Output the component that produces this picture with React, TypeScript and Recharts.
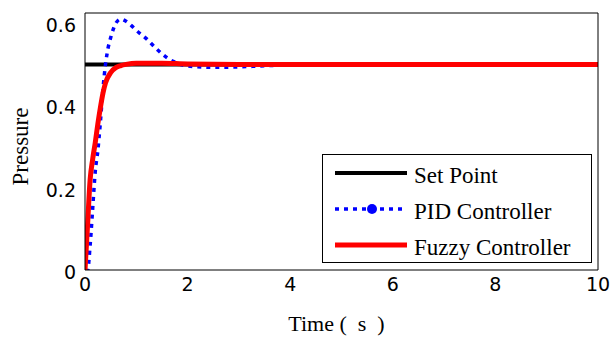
import React from 'react';
import { LineChart, Line, XAxis, YAxis, Legend } from 'recharts';

// ---- data ----
const timeTicks = [0, 2, 4, 6, 8, 10];
const pressureTicks = [0, 0.2, 0.4, 0.6];

const setPointT = [0, 10];
const setPointV = [0.5, 0.5];

const pidT = [0, 0.05, 0.1, 0.15, 0.2, 0.25, 0.3, 0.35, 0.4, 0.45, 0.5, 0.55, 0.6, 0.7, 0.8, 0.9, 1.0, 1.2, 1.4, 1.6, 1.8, 2.0, 2.5, 3.0, 3.4, 4.0, 5.0, 10];
const pidV = [0, 0, 0.06, 0.15, 0.24, 0.29, 0.36, 0.44, 0.5, 0.54, 0.565, 0.585, 0.6, 0.61, 0.605, 0.595, 0.583, 0.562, 0.537, 0.516, 0.503, 0.496, 0.493, 0.494, 0.496, 0.499, 0.5, 0.5];

const fuzzyT = [0, 0.05, 0.1, 0.15, 0.2, 0.25, 0.3, 0.35, 0.4, 0.5, 0.6, 0.7, 0.8, 1.0, 1.5, 2.0, 3.0, 10];
const fuzzyV = [0, 0.11, 0.22, 0.27, 0.31, 0.355, 0.395, 0.43, 0.455, 0.48, 0.492, 0.497, 0.5, 0.503, 0.503, 0.501, 0.5, 0.5];

const seriesNames = ['Set Point', 'PID Controller', 'Fuzzy Controller'];

const toRows = (ts: number[], vs: number[]) => ts.map((t, i) => ({ t, v: vs[i] }));
const setPointData = toRows(setPointT, setPointV);
const pidData = toRows(pidT, pidV);
const fuzzyData = toRows(fuzzyT, fuzzyV);

// ---- styles ----
const SERIF = "'Liberation Serif', 'Times New Roman', Times, serif";
const SANS = "'DejaVu Sans', Verdana, sans-serif";
const styleByName: Record<string, { stroke: string; width: number; dash?: string; dot?: boolean }> = {
  'Set Point': { stroke: '#000000', width: 4 },
  'PID Controller': { stroke: '#0000ff', width: 3.5, dash: '4 5', dot: true },
  'Fuzzy Controller': { stroke: '#ff0000', width: 5 },
};

const renderLegend = (props: any) => {
  const payload: any[] = [...(props.payload || [])].sort(
    (a: any, b: any) => seriesNames.indexOf(String(a.value)) - seriesNames.indexOf(String(b.value))
  );
  return (
    <svg width={271} height={110} style={{ display: 'block' }}>
      <rect x={0.5} y={0.5} width={269} height={108} fill="#fff" stroke="#000" strokeWidth={1} />
      {payload.map((p: any, i: number) => {
        const name = String(p.value);
        const st = styleByName[name] || { stroke: p.color, width: 3 };
        const cy = 19 + i * 36;
        return (
          <g key={name}>
            <line x1={13} x2={85} y1={cy} y2={cy} stroke={st.stroke} strokeWidth={st.width} strokeDasharray={st.dash} />
            {st.dot ? <circle cx={50} cy={cy} r={5} fill={st.stroke} /> : null}
            <text x={92} y={cy + 10} style={{ fontFamily: SERIF, fontSize: 23, fill: '#000' }}>{name}</text>
          </g>
        );
      })}
    </svg>
  );
};

export default function App() {
  return (
    <div style={{ position: 'absolute', left: 0, top: 0, width: 610, height: 338, background: '#fff' }}>
      <LineChart width={610} height={338} margin={{ top: 13, right: 12, bottom: 7, left: 0 }}>
        <XAxis
          xAxisId="b"
          type="number"
          dataKey="t"
          domain={[0, 10]}
          ticks={timeTicks}
          interval={0}
          allowDataOverflow
          height={61}
          tickLine={false}
          tickSize={0}
          tickMargin={8}
          axisLine={{ stroke: '#000', strokeWidth: 1 }}
          tick={{ fill: '#000', fontSize: 19, fontFamily: SANS }}
          label={{ value: 'Time (\u00a0 s\u00a0 )', position: 'insideBottom', offset: 0, dx: -5, fill: '#000', style: { fill: '#000', fontSize: 22, fontFamily: SERIF } }}
        />
        <XAxis xAxisId="bt" type="number" dataKey="t" domain={[0, 10]} ticks={timeTicks} interval={0} allowDataOverflow orientation="bottom" mirror height={4} tick={false} tickSize={4} tickLine={{ stroke: '#000' }} axisLine={false} />
        <XAxis xAxisId="top" type="number" dataKey="t" domain={[0, 10]} ticks={timeTicks} interval={0} allowDataOverflow orientation="top" mirror height={4} tick={false} tickSize={4} tickLine={{ stroke: '#000' }} axisLine={{ stroke: '#000', strokeWidth: 1 }} />
        <YAxis
          yAxisId="l"
          type="number"
          domain={[0, 0.625]}
          ticks={pressureTicks}
          interval={0}
          allowDataOverflow
          width={85}
          tickLine={false}
          tickSize={0}
          tickMargin={9}
          axisLine={{ stroke: '#000', strokeWidth: 1 }}
          tick={{ fill: '#000', fontSize: 19, fontFamily: SANS, dy: 2 }}
          tickFormatter={(v: number) => String(v)}
          label={{ value: 'Pressure', angle: -90, position: 'center', dx: -23, dy: 5, fill: '#000', style: { fill: '#000', fontSize: 23, fontFamily: SERIF } }}
        />
        <YAxis yAxisId="li" type="number" domain={[0, 0.625]} ticks={pressureTicks} interval={0} allowDataOverflow orientation="left" mirror width={4} tick={false} tickSize={4} tickLine={{ stroke: '#000' }} axisLine={false} />
        <YAxis yAxisId="r" type="number" domain={[0, 0.625]} ticks={pressureTicks} interval={0} allowDataOverflow orientation="right" mirror width={4} tick={false} tickSize={4} tickLine={{ stroke: '#000' }} axisLine={{ stroke: '#000', strokeWidth: 1 }} />
        <Line xAxisId="b" yAxisId="l" data={setPointData} dataKey="v" name={seriesNames[0]} type="linear" stroke="#000000" strokeWidth={4} dot={false} activeDot={false} isAnimationActive={false} />
        <Line xAxisId="b" yAxisId="l" data={pidData} dataKey="v" name={seriesNames[1]} type="monotone" stroke="#0000ff" strokeWidth={3.5} strokeDasharray="4 5" dot={false} activeDot={false} isAnimationActive={false} />
        <Line xAxisId="b" yAxisId="l" data={fuzzyData} dataKey="v" name={seriesNames[2]} type="monotone" stroke="#ff0000" strokeWidth={5} dot={false} activeDot={false} isAnimationActive={false} />
        <Legend
          layout="horizontal"
          verticalAlign="middle"
          align="center"
          content={renderLegend}
          wrapperStyle={{ left: 322, top: 154, width: 271, height: 110, margin: 0, padding: 0 }}
        />
      </LineChart>
    </div>
  );
}
